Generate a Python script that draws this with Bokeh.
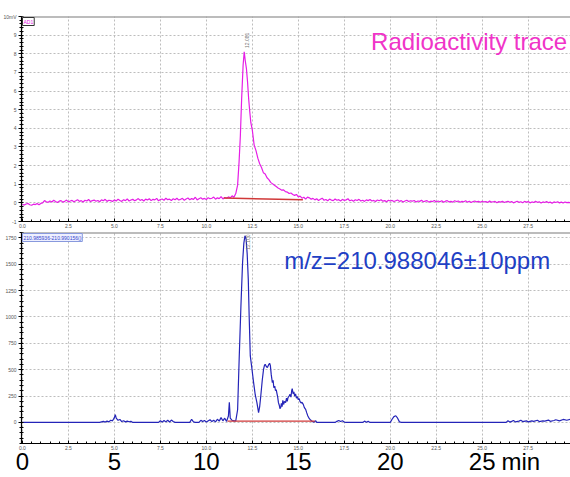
from bokeh.plotting import figure
from bokeh.layouts import column
from bokeh.models import (Range1d, SingleIntervalTicker, FixedTicker, PrintfTickFormatter, Label,
                          LinearAxis, Span)
from bokeh.embed import file_html
from bokeh.resources import INLINE

FONT = "Liberation Sans"

# ---------------- data ----------------
# Radioactivity trace: (time [min], signal)
rad_trace = [
    (0.0,-0.07),(0.1,-0.12),(0.2,-0.06),(0.3,-0.03),(0.4,-0.1),(0.5,-0.13),(0.6,-0.07),(0.7,-0.09),(0.8,-0.04),(0.9,-0.1),
    (1.0,-0.03),(1.1,0.0),(1.2,0.12),(1.3,0.06),(1.4,0.03),(1.5,0.1),(1.6,0.05),(1.7,0.14),(1.8,0.07),(1.9,0.02),
    (2.0,0.09),(2.1,0.12),(2.2,0.04),(2.3,0.08),(2.4,0.15),(2.5,0.05),(2.6,0.1),(2.7,0.13),(2.8,0.06),(2.9,0.11),
    (3.0,0.17),(3.1,0.08),(3.2,0.12),(3.3,0.05),(3.4,0.14),(3.5,0.1),(3.6,0.18),(3.7,0.07),(3.8,0.12),(3.9,0.15),
    (4.0,0.09),(4.1,0.13),(4.2,0.06),(4.3,0.16),(4.4,0.11),(4.5,0.19),(4.6,0.08),(4.7,0.14),(4.8,0.12),(4.9,0.07),
    (5.0,0.16),(5.1,0.1),(5.2,0.2),(5.3,0.13),(5.4,0.08),(5.5,0.17),(5.6,0.12),(5.7,0.21),(5.8,0.1),(5.9,0.15),
    (6.0,0.19),(6.1,0.11),(6.2,0.16),(6.3,0.23),(6.4,0.13),(6.5,0.18),(6.6,0.1),(6.7,0.2),(6.8,0.15),(6.9,0.22),
    (7.0,0.12),(7.1,0.19),(7.2,0.16),(7.3,0.24),(7.4,0.11),(7.5,0.18),(7.6,0.21),(7.7,0.14),(7.8,0.25),(7.9,0.17),
    (8.0,0.2),(8.1,0.13),(8.2,0.22),(8.3,0.17),(8.4,0.25),(8.5,0.15),(8.6,0.19),(8.7,0.24),(8.8,0.14),(8.9,0.21),
    (9.0,0.26),(9.1,0.17),(9.2,0.23),(9.3,0.19),(9.4,0.3),(9.5,0.16),(9.6,0.22),(9.7,0.27),(9.8,0.2),(9.9,0.24),
    (10.0,0.18),(10.1,0.28),(10.2,0.22),(10.3,0.25),(10.4,0.31),(10.5,0.2),(10.6,0.27),(10.7,0.23),(10.8,0.33),(10.9,0.21),
    (11.0,0.29),(11.1,0.25),(11.2,0.32),(11.3,0.27),
    (11.4,0.38),(11.5,0.3),(11.6,0.5),(11.7,0.95),(11.78,2.2),(11.85,3.6),(11.92,5.6),(12.0,7.4),(12.06,8.1),
    (12.12,7.6),(12.18,7.2),(12.24,6.5),(12.3,5.6),(12.36,4.9),(12.42,4.3),(12.5,3.9),(12.6,3.1),(12.7,2.8),
    (12.8,2.4),(12.9,2.1),(13.0,1.9),(13.1,1.62),(13.2,1.55),(13.3,1.35),(13.4,1.25),(13.5,1.1),(13.6,1.02),
    (13.7,0.95),(13.8,0.88),(13.9,0.8),(14.0,0.74),(14.1,0.68),(14.2,0.7),(14.3,0.6),(14.4,0.58),(14.5,0.5),
    (14.6,0.53),(14.7,0.45),(14.8,0.4),(14.9,0.45),(15.0,0.32),(15.1,0.36),(15.2,0.25),(15.3,0.3),(15.4,0.2),
    (15.5,0.31),(15.6,0.27),(15.7,0.2),(15.8,0.24),(15.9,0.16),
    (16.0,0.22),(16.1,0.13),(16.2,0.19),(16.3,0.25),(16.4,0.14),(16.5,0.18),(16.6,0.11),(16.7,0.2),(16.8,0.15),(16.9,0.12),
    (17.0,0.21),(17.1,0.14),(17.2,0.17),(17.3,0.1),(17.4,0.19),(17.5,0.13),(17.6,0.16),(17.7,0.22),(17.8,0.11),(17.9,0.15),
    (18.0,0.09),(18.1,0.17),(18.2,0.13),(18.3,0.19),(18.4,0.1),(18.5,0.14),(18.6,0.08),(18.7,0.16),(18.8,0.12),(18.9,0.18),
    (19.0,0.1),(19.1,0.13),(19.2,0.07),(19.3,0.15),(19.4,0.11),(19.5,0.17),(19.6,0.09),(19.7,0.12),(19.8,0.06),(19.9,0.14),
    (20.0,0.1),(20.1,0.13),(20.2,0.07),(20.3,0.11),(20.4,0.15),(20.5,0.08),(20.6,0.12),(20.7,0.05),(20.8,0.1),(20.9,0.14),
    (21.0,0.07),(21.1,0.11),(21.2,0.09),(21.3,0.13),(21.4,0.05),(21.5,0.1),(21.6,0.08),(21.7,0.14),(21.8,0.06),(21.9,0.09),
    (22.0,0.12),(22.1,0.04),(22.2,0.09),(22.3,0.07),(22.4,0.13),(22.5,0.05),(22.6,0.1),(22.7,0.06),(22.8,0.11),(22.9,0.03),
    (23.0,0.09),(23.1,0.12),(23.2,0.05),(23.3,0.08),(23.4,0.04),(23.5,0.11),(23.6,0.07),(23.7,0.1),(23.8,0.03),(23.9,0.08),
    (24.0,0.06),(24.1,0.11),(24.2,0.04),(24.3,0.09),(24.4,0.02),(24.5,0.07),(24.6,0.1),(24.7,0.05),(24.8,0.08),(24.9,0.03),
    (25.0,0.09),(25.1,0.05),(25.2,0.07),(25.3,0.02),(25.4,0.1),(25.5,0.04),(25.6,0.06),(25.7,0.08),(25.8,0.01),(25.9,0.07),
    (26.0,0.04),(26.1,0.09),(26.2,0.02),(26.3,0.06),(26.4,0.08),(26.5,0.03),(26.6,0.07),(26.7,0.0),(26.8,0.05),(26.9,0.09),
    (27.0,0.03),(27.1,0.06),(27.2,0.01),(27.3,0.08),(27.4,0.04),(27.5,0.07),(27.6,0.0),(27.7,0.05),(27.8,0.02),(27.9,0.08),
    (28.0,0.03),(28.1,0.06),(28.2,-0.01),(28.3,0.05),(28.4,0.02),(28.5,0.07),(28.6,0.01),(28.7,0.04),(28.8,-0.02),(28.9,0.05),
    (29.0,0.02),(29.1,0.06),(29.2,0.0),(29.3,0.04),(29.4,-0.01),(29.5,0.05),(29.6,0.01),(29.7,0.03),(29.8,0.0),
]
rad_baseline_t = [10.95, 15.25]
rad_baseline_v = [0.26, 0.17]
rad_peak_time = 12.06
rad_peak_value = 8.1
rad_peak_label = "12.081"

# Extracted ion chromatogram, m/z 210.988046 +/- 10 ppm: (time [min], intensity)
ms_trace = [
    (0.0, 0), (4.2, 0), (4.4, 10), (4.5, 3), (4.6, 12), (4.7, 5), (4.8, 20), (4.9, 15), (5.0, 45), (5.05, 73),
    (5.1, 40), (5.2, 20), (5.3, 28), (5.4, 8), (5.5, 15), (5.6, 5), (5.7, 12), (5.8, 6), (5.9, 10), (6.0, 0),
    (7.4, 0), (7.5, 15), (7.6, 3), (7.7, 18), (7.8, 5), (7.9, 20), (8.0, 4), (8.1, 22), (8.2, 8), (8.3, 0),
    (9.1, 0), (9.2, 30), (9.3, 5), (9.4, 0), (9.6, 0), (9.7, 20), (9.8, 8), (9.9, 18), (10.0, 3), (10.2, 25),
    (10.3, 8), (10.4, 20), (10.5, 5), (10.6, 30), (10.7, 12), (10.8, 45), (10.9, 15), (11.0, 40), (11.1, 10),
    (11.2, 60), (11.25, 190), (11.3, 40), (11.4, 20), (11.5, 15), (11.6, 15), (11.7, 120), (11.79, 630),
    (11.88, 1100), (11.97, 1516), (12.04, 1700), (12.1, 1769), (12.16, 1740), (12.22, 1600), (12.28, 1358),
    (12.33, 1000), (12.39, 630), (12.47, 520), (12.57, 377), (12.66, 260), (12.75, 187), (12.84, 92),
    (12.9, 150), (12.96, 250), (13.04, 400), (13.11, 503), (13.16, 540), (13.2, 551), (13.26, 530),
    (13.32, 519), (13.38, 545), (13.44, 560), (13.48, 540), (13.53, 450), (13.59, 377), (13.63, 400),
    (13.67, 330), (13.72, 345), (13.76, 300), (13.8, 310), (13.83, 282), (13.88, 240), (13.92, 187),
    (13.97, 160), (14.0, 130), (14.04, 139), (14.08, 180), (14.12, 150), (14.16, 210), (14.2, 170),
    (14.25, 200), (14.31, 187), (14.36, 230), (14.4, 200), (14.44, 234), (14.5, 250), (14.55, 266),
    (14.6, 240), (14.64, 300), (14.67, 320), (14.72, 270), (14.76, 290), (14.8, 250), (14.85, 270),
    (14.9, 230), (14.95, 245), (15.0, 215), (15.05, 225), (15.09, 200), (15.15, 185), (15.2, 190),
    (15.27, 171), (15.33, 140), (15.4, 123), (15.46, 90), (15.52, 60), (15.6, 35), (15.67, 22), (15.75, 10),
    (15.85, 3), (15.95, 15), (16.0, 0), (17.0, 0), (17.1, 10), (17.2, 18), (17.3, 8), (17.4, 15), (17.5, 3),
    (17.6, 0), (18.5, 0), (18.6, 12), (18.7, 2), (18.8, 10), (18.9, 0), (20.0, 0), (20.1, 30), (20.2, 55),
    (20.3, 63), (20.4, 40), (20.5, 5), (20.6, 0), (26.3, 0), (26.4, 15), (26.5, 3), (26.6, 10), (26.7, 18),
    (26.8, 5), (27.0, 12), (27.1, 20), (27.2, 8), (27.4, 15), (27.5, 5), (27.7, 15), (27.8, 10), (28.0, 20),
    (28.1, 8), (28.3, 15), (28.4, 12), (28.6, 22), (28.7, 10), (28.9, 18), (29.0, 25), (29.2, 15), (29.4, 28),
    (29.6, 20), (29.8, 30),
]
ms_baseline_t = [11.15, 15.9]
ms_baseline_v = [12, 12]
ms_peak_time = 12.1
ms_peak_label = "12.100"

# large time labels under the lower panel
big_ticks = [0, 5, 10, 15, 20, 25]
big_labels = ["0", "5", "10", "15", "20", "25"]
unit_label = "min"

rad_title = "Radioactivity trace"
ms_title = "m/z=210.988046\u00b110ppm"
ms_box_text = "210.985936-210.990156()"

X_START, X_END = -0.05, 29.8
MAGENTA = "#e61ee6"
BLUE = "#2424b8"


def style(p, y_interval):
    p.outline_line_color = None
    p.background_fill_color = "white"
    p.border_fill_color = "white"
    xa = p.xaxis[0]
    xa.ticker = SingleIntervalTicker(interval=2.5, num_minor_ticks=5)
    xa.formatter = PrintfTickFormatter(format="%.1f")
    ya = p.yaxis[0]
    ya.ticker = SingleIntervalTicker(interval=y_interval, num_minor_ticks=5)
    ya.formatter = PrintfTickFormatter(format="%d")
    for ax in (xa, ya):
        ax.axis_line_color = "black"
        ax.axis_line_width = 1.2
        ax.major_tick_line_color = "black"
        ax.minor_tick_line_color = "black"
        ax.major_label_text_font = FONT
        ax.major_label_text_font_size = "5px"
        ax.major_label_text_color = "#555555"
        ax.major_label_standoff = 2
    xa.major_tick_in = 3
    xa.major_tick_out = 0
    xa.minor_tick_in = 2
    xa.minor_tick_out = 0
    ya.major_tick_in = 0
    ya.major_tick_out = 3
    ya.minor_tick_in = 2
    ya.minor_tick_out = 2
    p.xgrid.ticker = xa.ticker
    p.ygrid.ticker = ya.ticker
    for g in (p.xgrid[0], p.ygrid[0]):
        g.grid_line_color = "#bdbdbd"
        g.grid_line_dash = "2 2"
        g.grid_line_width = 1


# ---------------- top panel: radioactivity ----------------
p1 = figure(width=570, height=232, x_range=Range1d(X_START, X_END), y_range=Range1d(-1, 10),
            output_backend="svg", toolbar_location=None,
            min_border_left=18, min_border_right=0, min_border_top=16, min_border_bottom=11)
style(p1, 1)
p1.yaxis[0].major_label_overrides = {10: "10mV"}
p1.add_layout(Span(location=10, dimension="width", line_color="#7a7a7a", line_width=2))
p1.line([t for t, _ in rad_trace], [v for _, v in rad_trace], line_color=MAGENTA, line_width=1.2)
p1.line(rad_baseline_t, rad_baseline_v, line_color="#d03838", line_width=1.5)
p1.add_layout(Label(x=X_END - 0.18, y=8.65, text=rad_title, text_align="right", text_baseline="alphabetic",
                    text_font=FONT, text_font_size="24px", text_color="#f034c8"))
p1.add_layout(Label(x=rad_peak_time, y=rad_peak_value, text=rad_peak_label,
                    angle=90, angle_units="deg", x_offset=3, y_offset=4, text_baseline="middle",
                    text_font=FONT, text_font_size="5px", text_color="#777777"))
p1.add_layout(Label(x=X_START, y=10, text="AD1", x_offset=1, y_offset=-1, text_baseline="top",
                    text_font=FONT, text_font_size="5px", text_color=MAGENTA,
                    border_line_color="#333333", border_line_width=1, background_fill_color="white",
                    padding=1))

# ---------------- bottom panel: extracted ion chromatogram ----------------
p2 = figure(width=570, height=245, x_range=p1.x_range, y_range=Range1d(-200, 1800),
            output_backend="svg", toolbar_location=None,
            min_border_left=18, min_border_right=0, min_border_top=0, min_border_bottom=0)
style(p2, 250)
p2.add_layout(Span(location=1800, dimension="width", line_color="#7a7a7a", line_width=2))
p2.line([t for t, _ in ms_trace], [v for _, v in ms_trace], line_color=BLUE, line_width=1.2)
p2.line(ms_baseline_t, ms_baseline_v, line_color="#d03838", line_width=1.3)
p2.add_layout(Label(x=14.23, y=1530, text=ms_title, text_align="left", text_baseline="alphabetic",
                    text_font=FONT, text_font_size="24px", text_color="#1e40c4"))
p2.add_layout(Label(x=ms_peak_time, y=1800, text=ms_peak_label, angle=90, angle_units="deg",
                    x_offset=3, y_offset=-2, text_align="right", text_baseline="middle",
                    text_font=FONT, text_font_size="5px", text_color="#777777"))
p2.add_layout(Label(x=X_START, y=1800, text=ms_box_text, x_offset=1, y_offset=-1, text_baseline="top",
                    text_font=FONT, text_font_size="5px", text_color="#3344cc",
                    border_line_color="#8899dd", border_line_width=1, background_fill_color="#eef0ff",
                    padding=1))

# big time labels as a second, bare axis below the small one
unit_pos = 27.1
big_axis = LinearAxis(ticker=FixedTicker(ticks=big_ticks + [unit_pos]),
                      major_label_overrides={**{t: s for t, s in zip(big_ticks, big_labels)}, unit_pos: unit_label},
                      axis_line_color=None, major_tick_line_color=None, minor_tick_line_color=None,
                      major_tick_in=0, major_tick_out=0, minor_tick_in=0, minor_tick_out=0,
                      major_label_standoff=-5, major_label_text_font=FONT,
                      major_label_text_font_size="24px", major_label_text_color="black")
p2.add_layout(big_axis, "below")

layout = column(p1, p2, spacing=0)
open("out.html", "w").write(file_html(layout, INLINE))
